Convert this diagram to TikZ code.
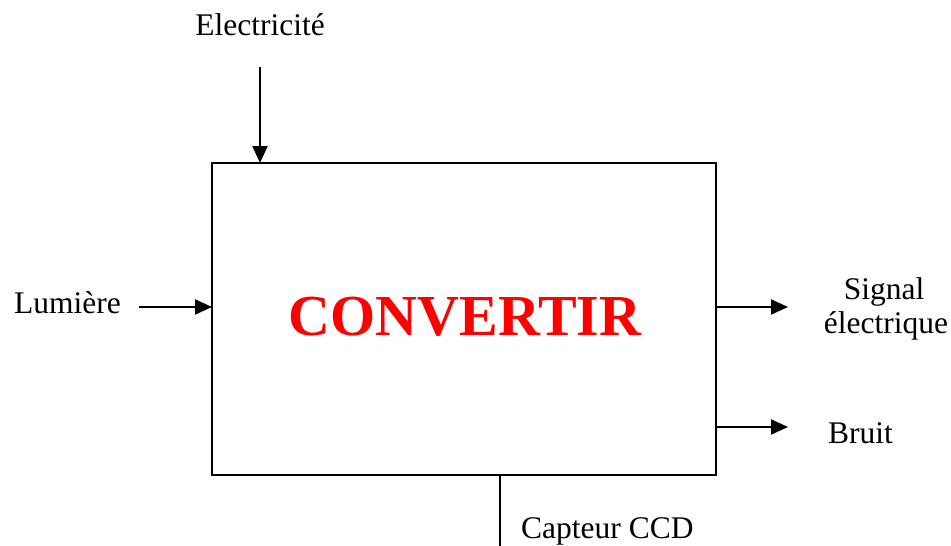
\documentclass[tikz,border=0pt]{standalone}
\usepackage{fontspec}
\setmainfont{Liberation Serif}
\usetikzlibrary{arrows.meta}
\begin{document}
\begin{tikzpicture}[x=1pt,y=-1pt,
  lbl/.style={font=\fontsize{31.5}{34}\selectfont, inner sep=0pt, anchor=base west},
  flow/.style={line width=2pt, -{Triangle[length=17pt,width=15pt]}},
  plain/.style={line width=2pt}]
\useasboundingbox (0,0) rectangle (951,546);
\node[draw, line width=2pt, minimum width=504pt, minimum height=312pt, inner sep=0pt] (box) at (464,319) {};
\node[font=\fontsize{58}{60}\selectfont\bfseries, text=red, inner sep=0pt, anchor=base] (conv) at (465,335) {CONVERTIR};
% Electricite
\node[lbl, anchor=base] (elec) at (260,35) {Electricité};
\coordinate (elecS) at (260,67);
\coordinate (elecE) at (260,163);
\draw[flow] (elecS) -- (elecE);
% Lumiere
\node[lbl] (lum) at (14,313) {Lumière};
\coordinate (lumS) at (139,307);
\coordinate (lumE) at (212,307);
\draw[flow] (lumS) -- (lumE);
% Signal
\node[lbl, anchor=base] (sig1) at (884,299) {Signal};
\node[lbl, anchor=base] (sig2) at (886,333) {électrique};
\coordinate (sigS) at (716,307);
\coordinate (sigE) at (788,307);
\draw[flow] (sigS) -- (sigE);
% Bruit
\node[lbl] (bruit) at (828,443) {Bruit};
\coordinate (brS) at (716,427);
\coordinate (brE) at (788,427);
\draw[flow] (brS) -- (brE);
% Capteur
\node[lbl] (capt) at (521,538) {Capteur CCD};
\coordinate (capS) at (500,475);
\coordinate (capE) at (500,546);
\draw[plain] (capS) -- (capE);
\end{tikzpicture}
\end{document}
